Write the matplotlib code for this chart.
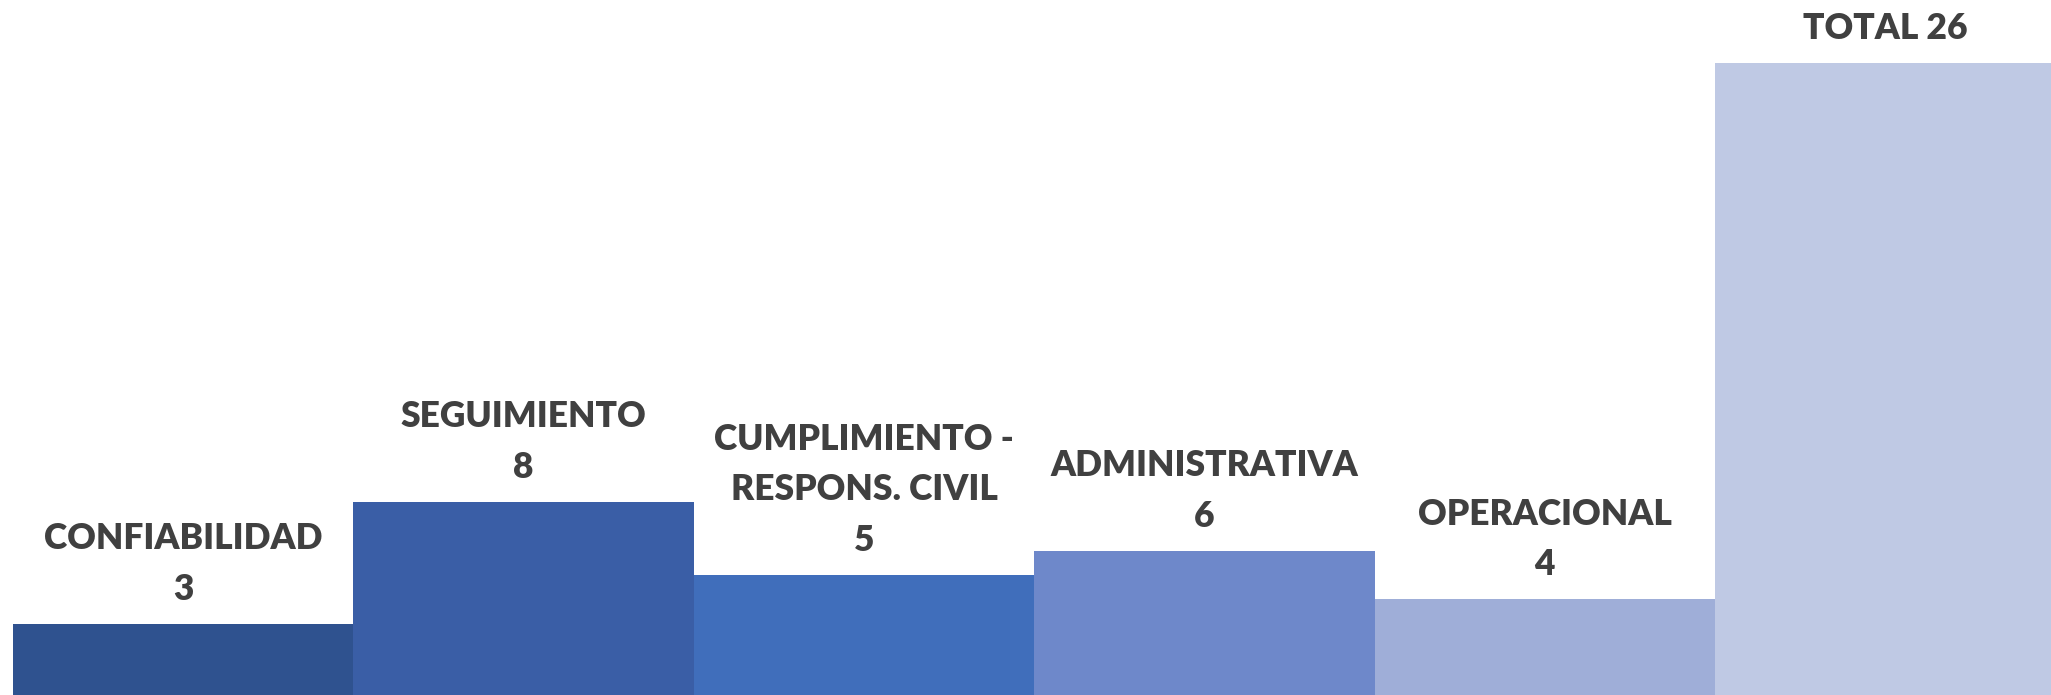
import matplotlib
matplotlib.use("Agg")
import matplotlib.pyplot as plt

# data
categories = ["CONFIABILIDAD", "SEGUIMIENTO", "CUMPLIMIENTO -\nRESPONS. CIVIL",
              "ADMINISTRATIVA", "OPERACIONAL", "TOTAL"]
values = [3, 8, 5, 6, 4, 26]
colors = ["#2F528F", "#3A5EA6", "#406EBB", "#6E88CA", "#9FAED8", "#BFC9E4"]

plt.rcParams['font.family'] = ['Lato', 'DejaVu Sans']

fig = plt.figure(figsize=(20.51, 6.95), dpi=100)
ax = fig.add_axes([0, 0, 1, 1])

x = list(range(len(values)))
ax.bar(x, values, width=1.0, color=colors, edgecolor="none")

# labels above each bar
for i, (cat, v) in enumerate(zip(categories, values)):
    if cat == "TOTAL":
        txt = f"{cat} {v}"
    else:
        txt = f"{cat}\n{v}"
    ax.annotate(txt, xy=(i, v), xytext=(0, 13), textcoords="offset points",
                ha="center", va="bottom", fontsize=25.5, fontweight="heavy",
                color="#404040", linespacing=1.65)

ax.set_xlim(-0.538, 5.487)
ax.set_ylim(0.08, 28.57)
ax.axis("off")

fig.savefig("out.png", dpi=100, facecolor="white")
